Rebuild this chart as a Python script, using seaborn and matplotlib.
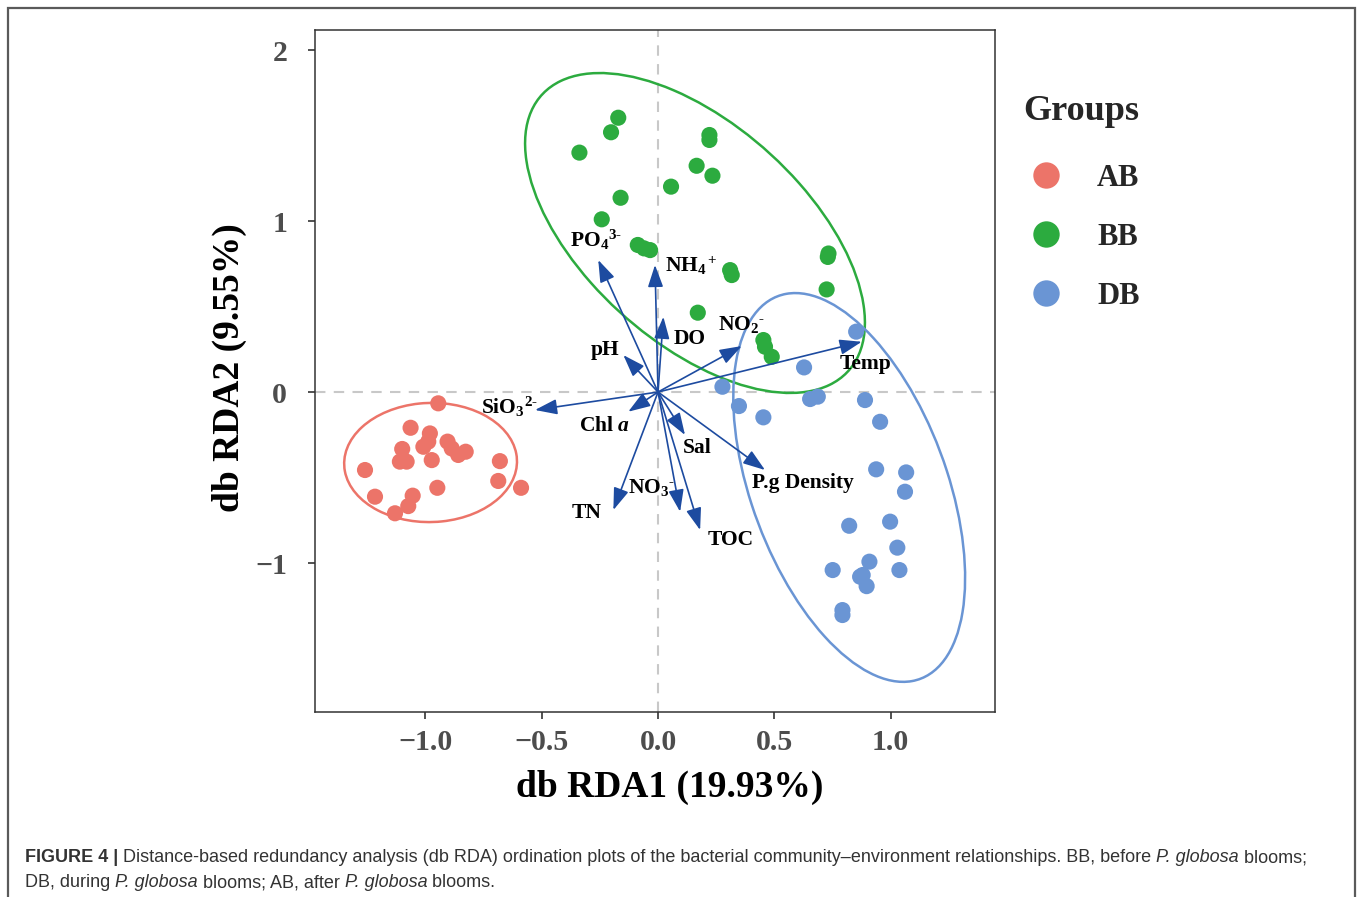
import numpy as np
import pandas as pd
import seaborn as sns
import matplotlib
matplotlib.use("Agg")
import matplotlib.pyplot as plt
from matplotlib.patches import Ellipse, Rectangle
from matplotlib.lines import Line2D

# ---------------- data ----------------
ab_x = [-0.945, -1.064, -0.981, -1.100, -1.009, -0.988, -0.905, -0.859, -0.827, -0.887,
        -0.973, -1.110, -1.081, -1.260, -0.680, -0.687, -0.589, -0.949, -1.217, -1.055,
        -1.074, -1.131]
ab_y = [-0.066, -0.209, -0.242, -0.333, -0.320, -0.290, -0.290, -0.368, -0.349, -0.330,
        -0.398, -0.407, -0.407, -0.456, -0.404, -0.520, -0.560, -0.560, -0.612, -0.606,
        -0.667, -0.709]

bb_x = [-0.171, -0.202, -0.338, -0.161, -0.242, -0.087, -0.060, -0.034, 0.221, 0.221,
        0.166, 0.234, 0.056, 0.310, 0.317, 0.733, 0.730, 0.725, 0.171, 0.453, 0.460, 0.489]
bb_y = [1.604, 1.519, 1.400, 1.136, 1.010, 0.860, 0.840, 0.830, 1.503, 1.474,
        1.323, 1.265, 1.201, 0.713, 0.684, 0.810, 0.790, 0.600, 0.464, 0.304, 0.265, 0.206]

db_x = [0.852, 0.628, 0.277, 0.348, 0.453, 0.654, 0.687, 0.890, 0.955, 0.938, 1.067,
        1.062, 0.822, 0.998, 1.029, 1.038, 0.751, 0.909, 0.880, 0.869, 0.897, 0.793, 0.793]
db_y = [0.353, 0.144, 0.031, -0.082, -0.148, -0.041, -0.027, -0.047, -0.174, -0.452, -0.470,
        -0.583, -0.782, -0.758, -0.910, -1.041, -1.041, -0.992, -1.070, -1.080, -1.135,
        -1.275, -1.304]

groups = ["AB", "BB", "DB"]
group_colors = ["#EC7469", "#2CAB3F", "#6A95D4"]

# 95% ellipses: center x, center y, semi-major, semi-minor, angle (deg, data space)
ell_cx = [-0.978, 0.159, 0.822]
ell_cy = [-0.412, 0.930, -0.558]
ell_a = [0.372, 1.060, 1.164]
ell_b = [0.348, 0.534, 0.431]
ell_ang = [8.0, -57.0, -76.6]

# environmental vectors
env_labels = [r"PO$_4{}^{3\text{-}}$", r"NH$_4{}^+$", "DO", r"NO$_2{}^{\text{-}}$", "Temp", "pH",
              r"SiO$_3{}^{2\text{-}}$", r"Chl $\mathit{a}$", "Sal", "TN", r"NO$_3{}^{\text{-}}$",
              "TOC", "P.g Density"]
env_x = [-0.257, -0.013, 0.023, 0.360, 0.876, -0.149, -0.529, -0.128, 0.116, -0.192,
         0.095, 0.181, 0.460]
env_y = [0.772, 0.743, 0.440, 0.269, 0.294, 0.216, -0.105, -0.115, -0.251, -0.690,
         -0.700, -0.807, -0.456]
lab_x = [-0.265, 0.143, 0.138, 0.358, 0.894, -0.228, -0.640, -0.228, 0.168, -0.305,
         -0.030, 0.314, 0.624]
lab_y = [0.889, 0.737, 0.310, 0.392, 0.164, 0.246, -0.088, -0.199, -0.327, -0.708,
         -0.561, -0.868, -0.532]

x_ticks = [-1.0, -0.5, 0.0, 0.5, 1.0]
x_tick_labels = ["\u22121.0", "\u22120.5", "0.0", "0.5", "1.0"]
y_ticks = [-1, 0, 1, 2]
y_tick_labels = ["\u22121", "0", "1", "2"]

# ---------------- style ----------------
sns.set_style("white")
plt.rcParams["font.family"] = ["Liberation Serif", "DejaVu Serif"]
plt.rcParams["mathtext.fontset"] = "custom"
plt.rcParams["mathtext.rm"] = "Liberation Serif:bold"
plt.rcParams["mathtext.it"] = "Liberation Serif:bold:italic"
plt.rcParams["mathtext.bf"] = "Liberation Serif:bold"
plt.rcParams["mathtext.default"] = "rm"

W, H = 1357, 897
fig = plt.figure(figsize=(W / 100, H / 100), dpi=100)
fig.patch.set_facecolor("white")

L, R, T, B = 315, 995, 30, 712
ax = fig.add_axes([L / W, 1 - B / H, (R - L) / W, (B - T) / H])

df = pd.DataFrame({
    "RDA1": ab_x + bb_x + db_x,
    "RDA2": ab_y + bb_y + db_y,
    "Group": ["AB"] * len(ab_x) + ["BB"] * len(bb_x) + ["DB"] * len(db_x),
})

ax.axhline(0, color="#c8c8c8", lw=1.5, ls=(0, (5, 4)), zorder=1)
ax.axvline(0, color="#c8c8c8", lw=1.5, ls=(0, (5, 4)), zorder=1)

sns.scatterplot(data=df, x="RDA1", y="RDA2", hue="Group", hue_order=groups,
                palette=group_colors, s=135, edgecolor="none", linewidth=0,
                legend=False, ax=ax, zorder=3)

for cx, cy, a, b, ang, col in zip(ell_cx, ell_cy, ell_a, ell_b, ell_ang, group_colors):
    ax.add_patch(Ellipse((cx, cy), 2 * a, 2 * b, angle=ang, fill=False,
                         edgecolor=col, lw=1.8, zorder=2))

arrow_col = "#1D4BA0"
for ex, ey in zip(env_x, env_y):
    ax.annotate("", xy=(ex, ey), xytext=(0, 0),
                arrowprops=dict(arrowstyle="-|>,head_length=1.35,head_width=0.47",
                                color=arrow_col, lw=1.2, shrinkA=0, shrinkB=0),
                zorder=4)
for lx, ly, lab in zip(lab_x, lab_y, env_labels):
    ax.text(lx, ly, lab, ha="center", va="center", fontsize=15.5,
            fontweight="bold", color="black", zorder=5)

ax.set_xlim(-1.475, 1.449)
ax.set_ylim(-1.871, 2.117)
ax.set_xticks(x_ticks)
ax.set_xticklabels(x_tick_labels)
ax.set_yticks(y_ticks)
ax.set_yticklabels(y_tick_labels)
ax.tick_params(axis="both", which="major", direction="out", length=5, width=1.2,
               color="#333333", labelcolor="#4d4d4d", labelsize=21.5, bottom=True, left=True)
ax.tick_params(axis="x", pad=7)
ax.tick_params(axis="y", pad=15)
for lab in ax.get_xticklabels() + ax.get_yticklabels():
    lab.set_fontweight("bold")
for sp in ax.spines.values():
    sp.set_visible(True)
    sp.set_color("#333333")
    sp.set_linewidth(1.1)

ax.set_xlabel("db RDA1 (19.93%)", fontsize=27, fontweight="bold", color="black")
ax.set_ylabel("db RDA2 (9.55%)", fontsize=27, fontweight="bold", color="black")
ax.xaxis.set_label_coords((670 - L) / (R - L), -(770 - B) / (B - T))
ax.yaxis.set_label_coords(-(L - 247) / (R - L), (B - 368) / (B - T))

# legend
handles = [Line2D([0], [0], marker="o", linestyle="none", markersize=19,
                  markerfacecolor=c, markeredgecolor="none") for c in group_colors]
leg = fig.legend(handles, groups, title="Groups", loc="upper left",
                 bbox_to_anchor=(1011 / W, 1 - 83 / H), frameon=False,
                 prop={"family": "Liberation Serif", "weight": "bold", "size": 22},
                 title_fontproperties={"family": "Liberation Serif", "weight": "bold", "size": 26},
                 labelspacing=0.985, handletextpad=0.92, borderaxespad=0, handlelength=1.5)
leg._legend_box.align = "left"
leg._legend_box.sep = 25.6

# outer frame
fig.add_artist(Rectangle((8 / W, -0.05), (1355 - 8) / W, 1.05 - 8 / H,
                         transform=fig.transFigure, fill=False,
                         edgecolor="#5a5a5a", lw=1.6))

# caption
cap_family = "Liberation Sans"
cap_col = "#333333"
cap_size = 12.95
lines = [
    [("FIGURE 4 | ", "bold", "normal"),
     ("Distance-based redundancy analysis (db RDA) ordination plots of the bacterial "
      "community\u2013environment relationships. BB, before ", "normal", "normal"),
     ("P. globosa", "normal", "italic"),
     (" blooms;", "normal", "normal")],
    [("DB, during ", "normal", "normal"),
     ("P. globosa", "normal", "italic"),
     (" blooms; AB, after ", "normal", "normal"),
     ("P. globosa", "normal", "italic"),
     (" blooms.", "normal", "normal")],
]
baselines = [862, 887]
renderer = fig.canvas.get_renderer()
for pieces, yb in zip(lines, baselines):
    xpix = 25
    for txt, wt, st in pieces:
        t = fig.text(xpix / W, 1 - yb / H, txt, ha="left", va="baseline",
                     fontsize=cap_size, fontweight=wt, fontstyle=st,
                     family=cap_family, color=cap_col)
        bb = t.get_window_extent(renderer=renderer)
        xpix = bb.x1

fig.savefig("out.png", dpi=100, facecolor="white")
